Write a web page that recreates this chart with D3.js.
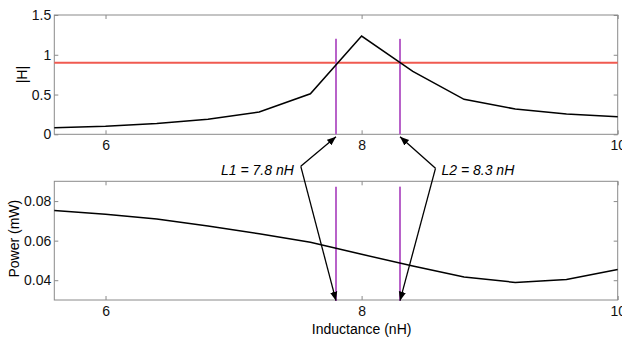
<!DOCTYPE html>
<html>
<head>
<meta charset="utf-8">
<script src="https://cdn.jsdelivr.net/npm/d3@7"></script>
<style>
  html, body { margin: 0; padding: 0; background: #fff; }
  svg { display: block; font-family: "Liberation Sans", Arial, sans-serif; }
  .axis path { display: none; }
  .axis line { stroke: #8a8a8a; }
  .axis text { font-size: 14px; fill: #111; }
</style>
</head>
<body>
<svg id="chart"></svg>
<script>
// inductance grid (nH)
const inductance = [5.6, 6.0, 6.4, 6.8, 7.2, 7.6, 8.0, 8.4, 8.8, 9.2, 9.6, 10.0];
// |H| response
const hMag = [0.083, 0.10, 0.135, 0.188, 0.28, 0.51, 1.235, 0.79, 0.44, 0.318, 0.255, 0.221];
// output power (mW)
const power = [0.0752, 0.0734, 0.0709, 0.0674, 0.0635, 0.0592, 0.0531, 0.0472, 0.0416, 0.0389, 0.0404, 0.0454];
const threshold = 0.9;
const markers = [
  { name: "L1", value: 7.8, label: "L1 = 7.8 nH", knee: 7.525 },
  { name: "L2", value: 8.3, label: "L2 = 8.3 nH", knee: 8.577 }
];
const xTicks = [6, 8, 10];
const hTicks = [0, 0.5, 1, 1.5];
const pTicks = [0.04, 0.06, 0.08];

const width = 622, height = 338;
const svg = d3.select("#chart").attr("width", width).attr("height", height);

const x = d3.scaleLinear().domain([5.6, 10]).range([54.3, 617.7]);
const yH = d3.scaleLinear().domain([0, 1.5]).range([134.3, 15]);
const yP = d3.scaleLinear().domain([0.03, 0.09]).range([300, 181.3]);

const fmtP = d => d3.format(".2f")(d);
const fmtH = d => String(d);
const fmtX = d => String(d);

function panel(y, ticks, fmt) {
  const [y0, y1] = y.range();
  const [x0, x1] = x.range();
  const g = svg.append("g");
  g.append("g").attr("class", "axis")
    .attr("transform", `translate(0,${y0})`)
    .call(d3.axisBottom(x).tickValues(xTicks).tickSize(-4).tickPadding(6).tickFormat(fmtX));
  g.append("g").attr("class", "axis")
    .attr("transform", `translate(0,${y1})`)
    .call(d3.axisTop(x).tickValues(xTicks).tickSize(-4).tickFormat(""));
  g.append("g").attr("class", "axis")
    .attr("transform", `translate(${x0},0)`)
    .call(d3.axisLeft(y).tickValues(ticks).tickSize(-4).tickPadding(3).tickFormat(fmt));
  g.append("g").attr("class", "axis")
    .attr("transform", `translate(${x1},0)`)
    .call(d3.axisRight(y).tickValues(ticks).tickSize(-4).tickFormat(""));
  g.append("rect")
    .attr("x", x0).attr("y", y1)
    .attr("width", x1 - x0).attr("height", y0 - y1)
    .attr("fill", "none").attr("stroke", "#8a8a8a").attr("stroke-width", 1);
  return g;
}

const topG = panel(yH, hTicks, fmtH);
const botG = panel(yP, pTicks, fmtP);

// threshold line
topG.append("line")
  .attr("x1", x.range()[0]).attr("x2", x.range()[1])
  .attr("y1", yH(threshold)).attr("y2", yH(threshold))
  .attr("stroke", "#f05a50").attr("stroke-width", 2);

// marker lines
markers.forEach(m => {
  topG.append("line")
    .attr("x1", x(m.value)).attr("x2", x(m.value))
    .attr("y1", yH(1.2)).attr("y2", yH(0))
    .attr("stroke", "#b862c9").attr("stroke-width", 2);
  botG.append("line")
    .attr("x1", x(m.value)).attr("x2", x(m.value))
    .attr("y1", yP(0.0873)).attr("y2", yP(0.0295))
    .attr("stroke", "#b862c9").attr("stroke-width", 2);
});

// curves
topG.append("path")
  .datum(d3.zip(inductance, hMag))
  .attr("fill", "none").attr("stroke", "#000").attr("stroke-width", 1.5)
  .attr("d", d3.line().x(d => x(d[0])).y(d => yH(d[1])));
botG.append("path")
  .datum(d3.zip(inductance, power))
  .attr("fill", "none").attr("stroke", "#000").attr("stroke-width", 1.5)
  .attr("d", d3.line().x(d => x(d[0])).y(d => yP(d[1])));

// axis titles
svg.append("text")
  .attr("transform", `translate(27,${yH(0.75)}) rotate(-90)`)
  .attr("text-anchor", "middle").style("font-size", "14px")
  .text("|H|");
svg.append("text")
  .attr("transform", `translate(19,${yP(0.061)}) rotate(-90)`)
  .attr("text-anchor", "middle").style("font-size", "14px")
  .text("Power (mW)");
svg.append("text")
  .attr("x", x(8)).attr("y", 334)
  .attr("text-anchor", "middle").style("font-size", "14px")
  .text("Inductance (nH)");

// arrow annotations
svg.append("defs").append("marker")
  .attr("id", "head").attr("viewBox", "0 0 10 10")
  .attr("refX", 10).attr("refY", 5)
  .attr("markerWidth", 9).attr("markerHeight", 9)
  .attr("markerUnits", "userSpaceOnUse")
  .attr("orient", "auto")
  .append("path").attr("d", "M0,1 L10,5 L0,9 Z").attr("fill", "#000");

const kneeY = { L1: 166.3, L2: 168.3 };
markers.forEach((m, i) => {
  const kx = x(m.knee), ky = kneeY[m.name];
  [yH(0) + 2.5, yP(0.03) + 0.7].forEach(ty => {
    svg.append("line")
      .attr("x1", kx).attr("y1", ky)
      .attr("x2", x(m.value)).attr("y2", ty)
      .attr("stroke", "#000").attr("stroke-width", 1.3)
      .attr("marker-end", "url(#head)");
  });
  svg.append("text")
    .attr("x", i === 0 ? kx - 7 : kx + 6)
    .attr("y", 175)
    .attr("text-anchor", i === 0 ? "end" : "start")
    .style("font-size", "14px").style("font-style", "italic")
    .text(m.label);
});
</script>
</body>
</html>
